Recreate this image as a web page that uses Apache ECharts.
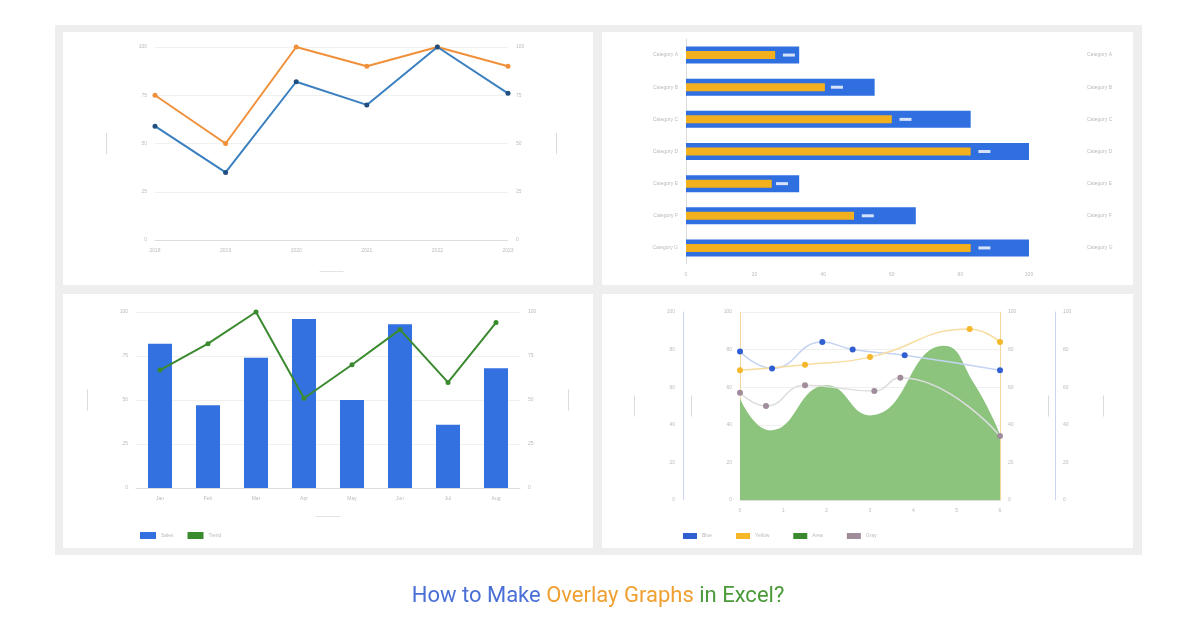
<!DOCTYPE html>
<html><head><meta charset="utf-8">
<script src="https://cdn.jsdelivr.net/npm/echarts@6/dist/echarts.min.js"></script>
<style>html,body{margin:0;background:#fff}#c{width:1196px;height:628px}</style>
</head><body><div id="c"></div>
<script>
// top-left: two lines
var lineCats = ['2018', '2019', '2020', '2021', '2022', '2023'];
var orangeVals = [75, 50, 100, 90, 100, 90];
var blueVals = [59, 35, 82, 70, 100, 76];
// top-right: overlaid horizontal bars
var barCats = ['Category A', 'Category B', 'Category C', 'Category D', 'Category E', 'Category F', 'Category G'];
var totalVals = [33, 55, 83, 100, 33, 67, 100];
var partVals = [26, 40.5, 60, 83, 25, 49, 83];
var markVals = [30, 44, 64, 87, 28, 53, 87];
// bottom-left: bars + line
var colCats = ['Jan', 'Feb', 'Mar', 'Apr', 'May', 'Jun', 'Jul', 'Aug'];
var colVals = [82, 47, 74, 96, 50, 93, 36, 68];
var trendVals = [67, 82, 100, 51, 70, 90, 60, 94];
// bottom-right: area + three smooth lines ([x, y])
var areaPts = [[0, 54], [0.7, 37], [2, 61], [3, 45], [4.7, 82], [5.4, 62], [6, 35]];
var bluePts = [[0, 79], [0.74, 70], [1.9, 84], [2.6, 80], [3.8, 77], [6, 69]];
var yellowPts = [[0, 69], [1.5, 72], [3, 76], [5.3, 91], [6, 84]];
var grayPts = [[0, 57], [0.6, 50], [1.5, 61], [3.1, 58], [3.7, 65], [6, 34]];

var lbl = {fontSize: 5, color: '#bbb'};
var grid = {lineStyle: {color: '#eee'}};
function vAxis(g, pos, off, lineColor) {
  return {type: 'value', gridIndex: g, position: pos, offset: off || 0, min: 0, max: 100, interval: g === 3 ? 20 : 25,
    axisLabel: lbl, splitLine: {show: pos === 'left' && !off, lineStyle: {color: '#f0f0f0'}},
    axisLine: {show: !!lineColor, lineStyle: {color: lineColor || '#ccc'}}, axisTick: {show: false},
    name: '———', nameLocation: 'middle', nameGap: 45, nameRotate: 90, nameTextStyle: {color: '#bbb', fontSize: 7}};
}
var option = {
  animation: false,
  graphic: [
    {type: 'rect', shape: {x: 55, y: 25, width: 1087, height: 530}, style: {fill: '#eeeeee'}},
    {type: 'rect', shape: {x: 63, y: 32, width: 530, height: 253}, style: {fill: '#fff'}},
    {type: 'rect', shape: {x: 602, y: 32, width: 531, height: 253}, style: {fill: '#fff'}},
    {type: 'rect', shape: {x: 63, y: 294, width: 530, height: 254}, style: {fill: '#fff'}},
    {type: 'rect', shape: {x: 602, y: 294, width: 531, height: 254}, style: {fill: '#fff'}},
    {type: 'text', left: 'center', top: 585, style: {
      text: '{a|How to Make }{b|Overlay Graphs}{c| in Excel?}',
      rich: {a: {fill: '#4a6fd6', fontSize: 22, fontFamily: 'Roboto'}, b: {fill: '#f0a030', fontSize: 22, fontFamily: 'Roboto'}, c: {fill: '#4a9a3a', fontSize: 22, fontFamily: 'Roboto'}}}}
  ],
  grid: [
    {left: 155, top: 47, width: 353, height: 193},
    {left: 686, top: 39, width: 343, height: 225},
    {left: 136, top: 312, width: 384, height: 176},
    {left: 740, top: 312, width: 260, height: 188}
  ],
  legend: [
    {data: ['Sales', 'Trend'], icon: 'rect', left: 135, top: 527, itemWidth: 16, itemHeight: 7, itemGap: 14, textStyle: {fontSize: 5, color: '#bbb'}},
    {data: ['Blue', 'Yellow', 'Area', 'Gray'], icon: 'rect', left: 678, top: 528, itemWidth: 14, itemHeight: 6, itemGap: 24, textStyle: {fontSize: 5, color: '#bbb'}}
  ],
  xAxis: [
    {type: 'category', gridIndex: 0, data: lineCats, boundaryGap: false, axisLabel: lbl, axisLine: {lineStyle: {color: '#ddd'}}, axisTick: {show: false},
      splitLine: grid, name: '————', nameLocation: 'middle', nameGap: 28, nameTextStyle: {color: '#bbb', fontSize: 6}},
    {type: 'value', gridIndex: 1, min: 0, max: 100, interval: 20, axisLabel: lbl, splitLine: {show: false}, axisLine: {show: false}},
    {type: 'category', gridIndex: 2, data: colCats, axisLabel: lbl, axisLine: {lineStyle: {color: '#ddd'}}, axisTick: {show: false},
      name: '————', nameLocation: 'middle', nameGap: 25, nameTextStyle: {color: '#bbb', fontSize: 6}},
    {type: 'value', gridIndex: 3, min: 0, max: 6, interval: 1, axisLabel: lbl, splitLine: {show: false}, axisLine: {lineStyle: {color: '#ddd'}}, axisTick: {show: false}}
  ],
  yAxis: [
    vAxis(0, 'left'), vAxis(0, 'right'),
    {type: 'category', gridIndex: 1, data: barCats, inverse: true, axisLabel: {fontSize: 5, color: '#bbb'}, axisLine: {lineStyle: {color: '#ddd'}}, axisTick: {show: false}},
    {type: 'category', gridIndex: 1, data: barCats, inverse: true, position: 'right', offset: 50, axisLabel: {fontSize: 5, color: '#bbb'}, axisLine: {show: false}, axisTick: {show: false}},
    vAxis(2, 'left'), vAxis(2, 'right'),
    vAxis(3, 'left', 0, '#f3d9a0'), vAxis(3, 'left', 57, '#c9d6ee'), vAxis(3, 'right', 0, '#f3d9a0'), vAxis(3, 'right', 55, '#c9d6ee')
  ],
  series: [
    {name: 'Orange', type: 'line', xAxisIndex: 0, yAxisIndex: 0, data: orangeVals, symbol: 'circle', symbolSize: 5, lineStyle: {color: '#f0903a', width: 2}, itemStyle: {color: '#f0903a'}},
    {name: 'Line Blue', type: 'line', xAxisIndex: 0, yAxisIndex: 0, data: blueVals, symbol: 'circle', symbolSize: 5, lineStyle: {color: '#3a80c0', width: 2}, itemStyle: {color: '#1f4f80'}},
    {name: 'Total', type: 'bar', xAxisIndex: 1, yAxisIndex: 2, data: totalVals, barWidth: 17, itemStyle: {color: '#2f6fe0'}},
    {name: 'Part', type: 'bar', xAxisIndex: 1, yAxisIndex: 3, data: partVals, barWidth: 8, z: 3, itemStyle: {color: '#f2b01e'}},
    {name: 'Mark', type: 'scatter', xAxisIndex: 1, yAxisIndex: 3, data: markVals, symbol: 'rect', symbolSize: [12, 3], z: 4, itemStyle: {color: '#fff'}},
    {name: 'Sales', type: 'bar', xAxisIndex: 2, yAxisIndex: 4, data: colVals, barWidth: 24, itemStyle: {color: '#3370e0'}},
    {name: 'Trend', type: 'line', xAxisIndex: 2, yAxisIndex: 5, data: trendVals, symbol: 'circle', symbolSize: 5, lineStyle: {color: '#3a8a2e', width: 2}, itemStyle: {color: '#3a8a2e'}},
    {name: 'Area', type: 'line', xAxisIndex: 3, yAxisIndex: 6, data: areaPts, smooth: 0.5, showSymbol: false, lineStyle: {width: 0}, areaStyle: {color: '#8cc47e', opacity: 1}, itemStyle: {color: '#3a8a2e'}},
    {name: 'Blue', type: 'line', xAxisIndex: 3, yAxisIndex: 6, data: bluePts, smooth: 0.5, symbol: 'circle', symbolSize: 6, lineStyle: {color: '#c5d3f3', width: 1.5}, itemStyle: {color: '#2f5fd0'}},
    {name: 'Yellow', type: 'line', xAxisIndex: 3, yAxisIndex: 6, data: yellowPts, smooth: 0.5, symbol: 'circle', symbolSize: 6, lineStyle: {color: '#f7dca0', width: 1.5}, itemStyle: {color: '#f5b82a'}},
    {name: 'Gray', type: 'line', xAxisIndex: 3, yAxisIndex: 6, data: grayPts, smooth: 0.5, symbol: 'circle', symbolSize: 6, lineStyle: {color: '#ddd', width: 1.5}, itemStyle: {color: '#a08c9a'}}
  ]
};
echarts.init(document.getElementById('c')).setOption(option);
</script></body></html>
